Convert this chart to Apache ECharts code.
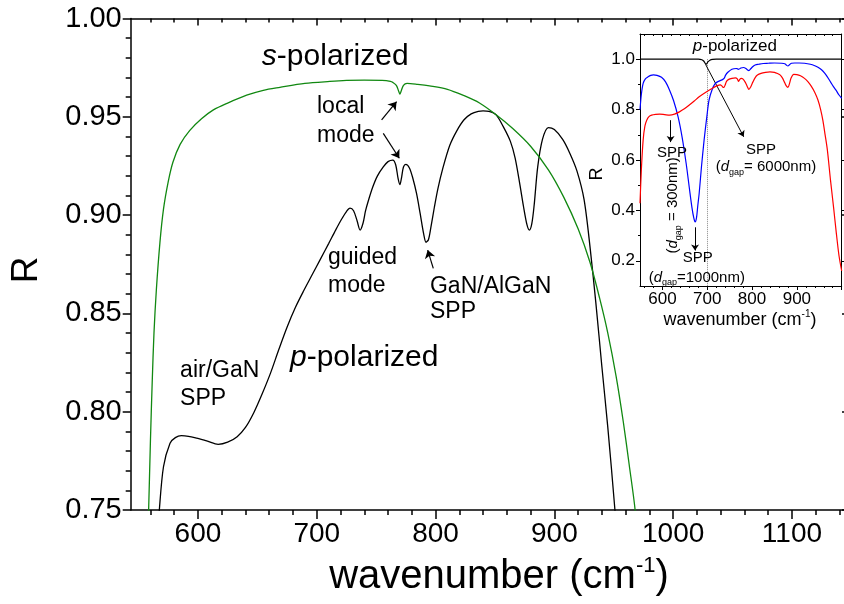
<!DOCTYPE html>
<html><head><meta charset="utf-8">
<script src="https://cdn.jsdelivr.net/npm/echarts@6/dist/echarts.min.js"></script>
<style>html,body{margin:0;padding:0;background:#fff}#c{width:844px;height:604px}</style>
</head><body><div id="c"></div>
<script>
const F = 'Liberation Sans, Arial, sans-serif';

// ---- main chart data ----
const sWn = [556,558.5,560,561.5,563,565,568,571,575,579,585,593,603,613,625,641,655,669,690,711,725,740,755,762,764,767,769,770,771,773,776,785,795,810,823,837,851,865,880,895,908,920,930,938,945,952,958,963,968,972];
const sR  = [0.70,0.75,0.785,0.815,0.84,0.862,0.886,0.903,0.917,0.927,0.936,0.943,0.949,0.9535,0.957,0.961,0.9635,0.965,0.967,0.968,0.9685,0.9687,0.9685,0.968,0.9675,0.966,0.963,0.9615,0.963,0.966,0.967,0.9665,0.9657,0.964,0.961,0.957,0.951,0.944,0.935,0.923,0.909,0.893,0.876,0.858,0.84,0.818,0.795,0.773,0.75,0.72];
const pWn = [564,567.5,571,576.5,581,586,592,599,608,617,625,633,640,647,654,661,668,675,682,689,696,703,710,716,721,725,728,731,734,736.5,739,741,743.5,747,751,756,760,764,766.5,768.5,770,771.5,773,775,778,781,784,787,790,792,794,796,799,802,806,812,818,824,830,836,840,845,851,857,863,867,871,874,877,879,881,883,886,890,895,900,907,913,919,925,930,935,940,945,951,956];
const pR  = [0.72,0.75,0.772,0.784,0.7868,0.7878,0.7875,0.7865,0.785,0.7834,0.7845,0.7873,0.792,0.7995,0.809,0.8195,0.8315,0.843,0.853,0.8615,0.8695,0.8775,0.8855,0.8925,0.898,0.9018,0.9035,0.9022,0.897,0.8924,0.896,0.902,0.9074,0.914,0.9198,0.9245,0.9272,0.928,0.9255,0.9185,0.9155,0.9195,0.9245,0.9258,0.924,0.9185,0.911,0.901,0.8905,0.8862,0.8875,0.8935,0.904,0.9135,0.9235,0.9355,0.943,0.9485,0.9515,0.9528,0.953,0.9527,0.951,0.945,0.9375,0.929,0.9155,0.9045,0.895,0.8924,0.8955,0.905,0.9245,0.9385,0.9445,0.9435,0.9385,0.9315,0.9225,0.908,0.884,0.855,0.823,0.792,0.75,0.71];

// ---- inset data ----
const insetBlackWn = [550,680,688,692,695,697,699,702,706,712,720,1000];
const insetBlackR  = [1.0,1.0,0.998,0.993,0.985,0.979,0.982,0.99,0.996,0.999,1.0,1.0];
const insetBlueWn = [550,553,557,562,568,574,580,588,598,607,616,625,635,644,653,660,666,670,673,676,679,682,687,693,699,704,711,718,725,733,738,741,746,755,765,770,775,781,787,790,793,797,802,807,815,825,836,850,866,873,877,880,884,888,895,905,917,930,940,947,955,962,968,975,982,988,994,1000];
const insetBlueR  = [0.80,0.86,0.904,0.922,0.930,0.936,0.938,0.936,0.928,0.91,0.877,0.835,0.771,0.69,0.586,0.49,0.41,0.37,0.354,0.37,0.42,0.467,0.57,0.679,0.77,0.838,0.88,0.904,0.912,0.918,0.925,0.937,0.948,0.960,0.963,0.960,0.965,0.967,0.962,0.957,0.955,0.962,0.971,0.977,0.980,0.983,0.984,0.985,0.984,0.982,0.976,0.973,0.979,0.984,0.985,0.985,0.984,0.980,0.974,0.968,0.958,0.945,0.930,0.91,0.89,0.875,0.858,0.845];
const insetRedWn = [550,553,557,561,565,570,576,585,594,605,616,627,638,649,660,671,682,696,711,720,726,729,732,735,737,740,743,748,755,763,767,770,773,776,780,785,789,793,797,802,807,812,820,830,840,850,857,863,868,872,876,880,883,887,893,900,908,917,925,932,940,947,953,958,963,968,975,982,988,994,1000];
const insetRedR  = [0.428,0.56,0.679,0.735,0.758,0.772,0.778,0.781,0.782,0.78,0.778,0.782,0.791,0.803,0.818,0.834,0.851,0.868,0.884,0.893,0.897,0.898,0.895,0.889,0.888,0.898,0.912,0.920,0.924,0.926,0.922,0.912,0.921,0.924,0.921,0.908,0.893,0.880,0.890,0.910,0.927,0.937,0.944,0.948,0.950,0.948,0.943,0.937,0.925,0.910,0.895,0.888,0.900,0.925,0.940,0.939,0.934,0.924,0.91,0.893,0.868,0.838,0.80,0.757,0.70,0.64,0.52,0.41,0.31,0.22,0.16];

// ---- ticks ----
const mainXMajor = [600,700,800,900,1000,1100];
const mainXMinor = [560,580,620,640,660,680,720,740,760,780,820,840,860,880,920,940,960,980,1020,1040,1060,1080,1120,1140];
const mainYMajor = [0.75,0.80,0.85,0.90,0.95,1.00];
const insetXMajor = [600,700,800,900];
const insetXMajorTicks = [600,700,800,900,1000];
const insetXMinor = [560,580,620,640,660,680,720,740,760,780,820,840,860,880,920,940,960,980];
const insetYMajor = [0.2,0.4,0.6,0.8,1.0];
const insetYMinor = [0.3,0.5,0.7,0.9];

const zip = (a,b) => a.map((v,i)=>[v,b[i]]);
const K = '#000';

function xAx(grid, min, max, pos, ticks, len, inside, labels, fs, lineShow, lw){
  return {gridIndex:grid, type:'value', min:min, max:max, position:pos,
    axisLine:{show:lineShow, onZero:false, lineStyle:{color:K, width:lw}},
    axisTick:{show:true, customValues:ticks, length:len, inside:inside, lineStyle:{color:K, width:lw}},
    axisLabel:{show:!!labels, customValues:labels||[], fontSize:fs, color:K, fontFamily:F, margin:fs>20?10:5, hideOverlap:false,
      formatter:v=>String(Math.round(v))},
    splitLine:{show:false}, minorTick:{show:false}};
}
function yAx(grid, min, max, pos, ticks, len, inside, labels, fs, lineShow, lw, dec){
  return {gridIndex:grid, type:'value', min:min, max:max, position:pos,
    axisLine:{show:lineShow, onZero:false, lineStyle:{color:K, width:lw}},
    axisTick:{show:true, customValues:ticks, length:len, inside:inside, lineStyle:{color:K, width:lw}},
    axisLabel:{show:!!labels, customValues:labels||[], fontSize:fs, color:K, fontFamily:F, margin:fs>20?9:5,
      formatter:v=>Number(v).toFixed(dec)},
    splitLine:{show:false}, minorTick:{show:false}};
}

const mainXMin = 543.4, mainXMax = 1145.5;
const chart = echarts.init(document.getElementById('c'), null, {renderer:'canvas'});
const option = {
  animation:false,
  backgroundColor:'#fff',
  grid:[
    {left:130.7, top:18.5, width:715.3, height:491.5, outerBoundsMode:'none', containLabel:false},
    {left:640, top:34, width:201.7, height:252, show:true, backgroundColor:'#fff', borderWidth:0, outerBoundsMode:'none', containLabel:false}
  ],
  xAxis:[
    xAx(0, mainXMin, mainXMax, 'bottom', mainXMajor, 9, false, mainXMajor, 28, true, 1.5),
    xAx(0, mainXMin, mainXMax, 'bottom', mainXMinor, 5, false, null, 28, false, 1.5),
    xAx(0, mainXMin, mainXMax, 'top', mainXMajor, 7, true, null, 28, true, 1.5),
    xAx(0, mainXMin, mainXMax, 'top', mainXMinor, 4, true, null, 28, false, 1.5),
    xAx(1, 550, 1000, 'bottom', insetXMajorTicks, 4, false, insetXMajor, 17, true, 1),
    xAx(1, 550, 1000, 'bottom', insetXMinor, 2, false, null, 17, false, 1),
    xAx(1, 550, 1000, 'top', insetXMajorTicks, 3, true, null, 17, true, 1),
    xAx(1, 550, 1000, 'top', insetXMinor, 2, true, null, 17, false, 1)
  ],
  yAxis:[
    {gridIndex:0, type:'value', min:0.75, max:1.0, interval:0.05, position:'left',
      axisLine:{show:true, onZero:false, lineStyle:{color:K, width:1.5}},
      axisTick:{show:true, length:8, inside:false, lineStyle:{color:K, width:1.5}},
      minorTick:{show:true, splitNumber:5, length:5, lineStyle:{color:K, width:1.5}},
      axisLabel:{fontSize:29, color:K, fontFamily:F, margin:9, formatter:v=>v.toFixed(2)},
      splitLine:{show:false}, minorSplitLine:{show:false}},
    yAx(0, 0.75, 1.0, 'right', mainYMajor, 4, true, null, 28, true, 1.5, 2),
    yAx(1, 0.1, 1.1, 'left', insetYMajor, 4, false, insetYMajor, 17, true, 1, 1),
    yAx(1, 0.1, 1.1, 'left', insetYMinor, 2, false, null, 17, false, 1, 1),
    yAx(1, 0.1, 1.1, 'right', insetYMajor, 3, false, null, 17, true, 1, 1)
  ],
  series:[
    {name:'p-polarized', type:'line', xAxisIndex:0, yAxisIndex:0, data:zip(pWn,pR), showSymbol:false, smooth:0.3,
      lineStyle:{color:'#000', width:1.3}, z:3,
      markLine:{silent:true, symbol:['none','arrow'], symbolSize:8, animation:false, label:{show:false},
        lineStyle:{color:'#000', width:1.2, type:'solid'}, emphasis:{disabled:true},
        data:[
          [{coord:[754.6,0.9484]},{coord:[767.2,0.9577]}],
          [{coord:[756,0.9416]},{coord:[769.5,0.9289]}],
          [{coord:[798.1,0.8729]},{coord:[793.4,0.8822]}]
        ]}},
    {name:'s-polarized', type:'line', xAxisIndex:0, yAxisIndex:0, data:zip(sWn,sR), showSymbol:false, smooth:0.3,
      lineStyle:{color:'#118811', width:1.3}, z:3},
    {name:'inset 6000', type:'line', xAxisIndex:4, yAxisIndex:2, data:zip(insetBlackWn,insetBlackR), showSymbol:false, smooth:0.3,
      lineStyle:{color:'#000', width:1.2}, z:5,
      markLine:{silent:true, symbol:['none','none'], animation:false, label:{show:false},
        lineStyle:{color:'#888', width:1, type:'dotted'}, emphasis:{disabled:true},
        data:[[{coord:[700,1.0]},{coord:[700,0.1]}]]}},
    {name:'inset 1000', type:'line', xAxisIndex:4, yAxisIndex:2, data:zip(insetBlueWn,insetBlueR), showSymbol:false, smooth:0.3,
      lineStyle:{color:'#0000ff', width:1.2}, z:5,
      markLine:{silent:true, symbol:['none','arrow'], symbolSize:6, animation:false, label:{show:false},
        lineStyle:{color:'#000', width:1, type:'solid'}, emphasis:{disabled:true},
        data:[
          [{coord:[618.3,0.758]},{coord:[618.3,0.671]}],
          [{coord:[672.8,0.333]},{coord:[672.8,0.241]}],
          [{coord:[697,0.977]},{coord:[781.4,0.692]}]
        ]}},
    {name:'inset 300', type:'line', xAxisIndex:4, yAxisIndex:2, data:zip(insetRedWn,insetRedR), showSymbol:false, smooth:0.3,
      lineStyle:{color:'#ff0000', width:1.2}, z:5}
  ]
};
chart.setOption(option);

const P = (si, x, y) => chart.convertToPixel({seriesIndex:si}, [x,y]);
const mainRich = {n:{fontSize:23, fontFamily:F, fill:K}, i:{fontSize:30, fontFamily:F, fontStyle:'italic', fill:K}, b:{fontSize:30, fontFamily:F, fill:K}};
const insRich = {n:{fontSize:15, fontFamily:F, fill:K, lineHeight:20}, i:{fontSize:15, fontFamily:F, fontStyle:'italic', fill:K, lineHeight:20},
  s:{fontSize:9, fontFamily:F, fill:K, lineHeight:12, verticalAlign:'bottom'},
  pi:{fontSize:17, fontFamily:F, fontStyle:'italic', fill:K}, pn:{fontSize:17, fontFamily:F, fill:K}};

function T(si, x, y, text, rich, align, rot){
  const p = P(si, x, y);
  return {type:'text', x:p[0], y:p[1], rotation:rot||0, z:100, silent:true,
    style:{text:text, rich:rich, fontFamily:F, fill:K, align:align, textAlign:align, verticalAlign:'middle', textVerticalAlign:'middle'}};
}
const graphics = [
  T(0, 653.8, 0.9804, '{i|s}{b|-polarized}', mainRich, 'left'),
  T(0, 700.2, 0.955, '{n|local}', mainRich, 'left'),
  T(0, 700.2, 0.9402, '{n|mode}', mainRich, 'left'),
  T(0, 709.5, 0.8782, '{n|guided}', mainRich, 'left'),
  T(0, 709.5, 0.8639, '{n|mode}', mainRich, 'left'),
  T(0, 795.3, 0.8634, '{n|GaN/AlGaN}', mainRich, 'left'),
  T(0, 795.3, 0.8507, '{n|SPP}', mainRich, 'left'),
  T(0, 585, 0.8207, '{n|air/GaN}', mainRich, 'left'),
  T(0, 585, 0.8065, '{n|SPP}', mainRich, 'left'),
  T(0, 677.5, 0.8273, '{i|p}{b|-polarized}', mainRich, 'left'),
  T(3, 761.6, 1.052, '{pi|p}{pn|-polarized}', insRich, 'center'),
  T(3, 621.6, 0.627, '{n|SPP}', insRich, 'center'),
  T(3, 622.7, 0.42, '{n|(}{i|d}{s|gap}{n| = 300nm)}', insRich, 'center', Math.PI/2),
  T(3, 679, 0.213, '{n|SPP}', insRich, 'center'),
  T(3, 676.7, 0.134, '{n|(}{i|d}{s|gap}{n|=1000nm)}', insRich, 'center'),
  T(3, 820, 0.639, '{n|SPP}', insRich, 'center'),
  T(3, 831, 0.571, '{n|(}{i|d}{s|gap}{n|= 6000nm)}', insRich, 'center'),
  // axis titles
  {type:'text', x:499, y:577, z:100, silent:true, style:{text:'{a|wavenumber (cm}{u|-1}{a|)}', align:'center', textAlign:'center', verticalAlign:'middle', textVerticalAlign:'middle',
    rich:{a:{fontSize:40, fontFamily:F, fill:K, lineHeight:44}, u:{fontSize:22, fontFamily:F, fill:K, lineHeight:44, verticalAlign:'top'}}}},
  {type:'text', x:27, y:270, rotation:Math.PI/2, z:100, silent:true, style:{text:'R', fontSize:37, fontFamily:F, fill:K, align:'center', textAlign:'center', verticalAlign:'middle', textVerticalAlign:'middle'}},
  {type:'text', x:740, y:320, z:100, silent:true, style:{text:'{a|wavenumber (cm}{u|-1}{a|)}', align:'center', textAlign:'center', verticalAlign:'middle', textVerticalAlign:'middle',
    rich:{a:{fontSize:18, fontFamily:F, fill:K, lineHeight:22}, u:{fontSize:10, fontFamily:F, fill:K, lineHeight:22, verticalAlign:'top'}}}},
  {type:'text', x:597, y:174, rotation:Math.PI/2, z:100, silent:true, style:{text:'R', fontSize:18, fontFamily:F, fill:K, align:'center', textAlign:'center', verticalAlign:'middle', textVerticalAlign:'middle'}}
];
chart.setOption({graphic:graphics});
</script>
</body></html>
